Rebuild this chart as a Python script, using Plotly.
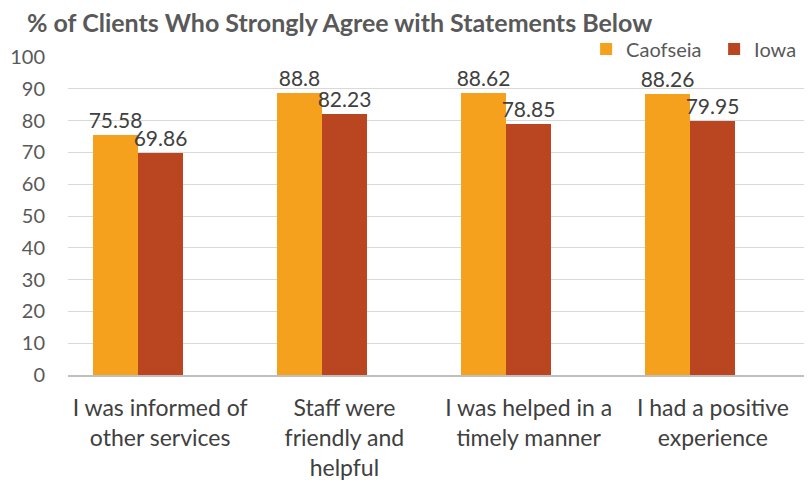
import plotly.graph_objects as go

categories = ["I was informed of<br>other services", "Staff were<br>friendly and<br>helpful",
              "I was helped in a<br>timely manner", "I had a positive<br>experience"]
caofseia = [75.58, 88.8, 88.62, 88.26]
iowa = [69.86, 82.23, 78.85, 79.95]
y_ticks = [0, 10, 20, 30, 40, 50, 60, 70, 80, 90, 100]

FONT = "Lato, Open Sans, sans-serif"
fig = go.Figure()
fig.add_trace(go.Bar(x=categories, y=caofseia, name="Caofseia",
                     marker=dict(color="#F5A11E", line=dict(width=0)),
                     width=0.244, offset=-0.366,
                     text=[f"{v:g}" for v in caofseia], textposition="outside",
                     constraintext="none",
                     textfont=dict(size=21, color="#404040", family=FONT), cliponaxis=False))
fig.add_trace(go.Bar(x=categories, y=iowa, name="Iowa",
                     marker=dict(color="#BA4621", line=dict(width=0)),
                     width=0.244, offset=-0.122,
                     text=[f"{v:g}" for v in iowa], textposition="outside",
                     constraintext="none",
                     textfont=dict(size=21, color="#404040", family=FONT), cliponaxis=False))

fig.update_layout(
    width=804, height=472,
    margin=dict(l=60, r=7, t=49, b=105, autoexpand=False),
    paper_bgcolor="white", plot_bgcolor="white",
    font=dict(family=FONT, color="#595959"),
    title=dict(text="<b>% of Clients Who Strongly Agree with Statements Below</b>",
               x=0.0236, xanchor="left", y=0.968, yanchor="middle",
               font=dict(size=25, color="#595959", family=FONT)),
    legend=dict(orientation="h", x=0.703, xanchor="left", y=1.025, yanchor="middle",
                font=dict(size=20, color="#595959"), itemwidth=30, traceorder="normal",
                entrywidth=83, bgcolor="rgba(0,0,0,0)"),
    showlegend=True,
    bargap=0.0,
)
fig.update_yaxes(range=[0, 100], tickvals=y_ticks, showgrid=True, gridcolor="#D9D9D9",
                 gridwidth=1, zeroline=False, showline=False,
                 tickfont=dict(size=20, color="#595959"), ticklabelstandoff=22)
fig.update_xaxes(showline=True, linecolor="#BFBFBF", linewidth=1.5,
                 tickfont=dict(size=23, color="#404040"), ticks="", ticklabelstandoff=12)

fig.write_html("out.html")
